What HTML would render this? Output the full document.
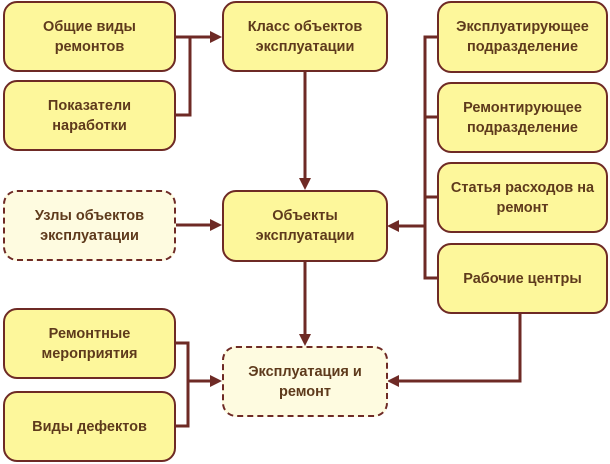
<!DOCTYPE html><html><head><meta charset="utf-8"><style>
body{margin:0;width:610px;height:464px;background:#fff;position:relative;font-family:"Liberation Sans",sans-serif;overflow:hidden}
.b{position:absolute;box-sizing:border-box;border:2px solid #6e2a25;border-radius:14px;background:#fdf79b;display:flex;align-items:center;justify-content:center;text-align:center;font-weight:bold;font-size:14.5px;line-height:20px;color:#5e3a1c}
.d{border-style:dashed;background:#fefbe0}
svg{position:absolute;left:0;top:0}
</style></head><body>
<svg width="610" height="464"><g stroke="#6e2a25" stroke-width="3" fill="none">
<path d="M175 37H190V115H175M190 37H212"/>
<path d="M305 72V180"/>
<path d="M175 225H212"/>
<path d="M437 37H425V278H437M425 117H437M425 197H437M425 226H397"/>
<path d="M305 262V336"/>
<path d="M175 343H188V426H175M188 381H212"/>
<path d="M520 314V381H397"/>
</g><g fill="#6e2a25">
<path d="M222 37l-12-6v12z"/><path d="M305 190l-6-12h12z"/><path d="M222 225l-12-6v12z"/>
<path d="M387 226l12-6v12z"/><path d="M305 346l-6-12h12z"/><path d="M222 381l-12-6v12z"/><path d="M387 381l12-6v12z"/>
</g></svg>
<div class="b" style="left:3px;top:1px;width:173px;height:71px">Общие виды<br>ремонтов</div>
<div class="b" style="left:3px;top:80px;width:173px;height:71px">Показатели<br>наработки</div>
<div class="b d" style="left:3px;top:190px;width:173px;height:71px">Узлы объектов<br>эксплуатации</div>
<div class="b" style="left:3px;top:308px;width:173px;height:71px">Ремонтные<br>мероприятия</div>
<div class="b" style="left:3px;top:391px;width:173px;height:71px">Виды дефектов</div>
<div class="b" style="left:222px;top:1px;width:166px;height:71px">Класс объектов<br>эксплуатации</div>
<div class="b" style="left:222px;top:190px;width:166px;height:72px">Объекты<br>эксплуатации</div>
<div class="b d" style="left:222px;top:346px;width:166px;height:71px">Эксплуатация и<br>ремонт</div>
<div class="b" style="left:437px;top:1px;width:171px;height:72px">Эксплуатирующее<br>подразделение</div>
<div class="b" style="left:437px;top:82px;width:171px;height:71px">Ремонтирующее<br>подразделение</div>
<div class="b" style="left:437px;top:162px;width:171px;height:71px">Статья расходов на<br>ремонт</div>
<div class="b" style="left:437px;top:243px;width:171px;height:71px">Рабочие центры</div>
</body></html>
